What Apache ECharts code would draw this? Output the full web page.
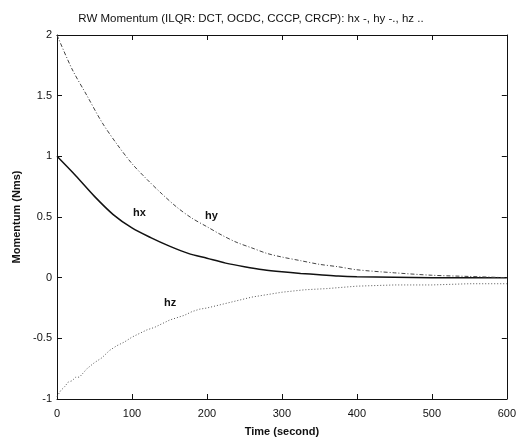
<!DOCTYPE html>
<html>
<head>
<meta charset="utf-8">
<script src="https://cdn.jsdelivr.net/npm/echarts@6/dist/echarts.min.js"></script>
<style>html,body{margin:0;padding:0;background:#fff}#c{width:519px;height:442px}</style>
</head>
<body>
<div id="c"></div>
<script>
// Time (s) and momentum (Nms) values
const hxT = [0, 25, 50, 75, 100, 125, 150, 175, 200, 225, 250, 275, 300, 325, 350, 375, 400, 450, 500, 600];
const hxV = [1.0, 0.84, 0.67, 0.52, 0.41, 0.33, 0.26, 0.20, 0.16, 0.12, 0.09, 0.065, 0.048, 0.035, 0.025, 0.014, 0.008, 0.003, 0.0, 0.0];

const hyT = [0, 20, 40, 60, 80, 100, 120, 140, 160, 180, 200, 220, 240, 260, 280, 300, 325, 350, 375, 400, 450, 500, 550, 600];
const hyV = [2.0, 1.72, 1.50, 1.28, 1.10, 0.94, 0.81, 0.69, 0.58, 0.49, 0.42, 0.35, 0.29, 0.245, 0.20, 0.17, 0.14, 0.11, 0.09, 0.065, 0.04, 0.02, 0.01, 0.0];

const hzT = [0, 5, 10, 15, 20, 25, 30, 40, 50, 60, 70, 80, 90, 100, 110, 120, 130, 140, 150, 160, 170, 180, 190, 200, 220, 240, 260, 280, 300, 330, 360, 400, 450, 500, 550, 600];
const hzV = [-0.98, -0.93, -0.90, -0.86, -0.85, -0.82, -0.82, -0.75, -0.70, -0.66, -0.60, -0.56, -0.53, -0.49, -0.46, -0.43, -0.41, -0.38, -0.35, -0.33, -0.31, -0.28, -0.26, -0.25, -0.22, -0.19, -0.16, -0.14, -0.12, -0.10, -0.09, -0.07, -0.06, -0.06, -0.05, -0.05];

const curveLabels = ['hx', 'hy', 'hz'];
const labelPos = [[110, 0.53], [206, 0.51], [151, -0.21]];

const xTicks = [0, 100, 200, 300, 400, 500, 600];
const yTicks = [-1, -0.5, 0, 0.5, 1, 1.5, 2];

const titleText = 'RW Momentum (ILQR: DCT, OCDC, CCCP, CRCP): hx -, hy -., hz ..';
const xName = 'Time (second)';
const yName = 'Momentum (Nms)';

function pairs(t, v) { return t.map((x, i) => [x, v[i]]); }

const font = 'Liberation Sans';
const chart = echarts.init(document.getElementById('c'), null, {renderer: 'canvas'});

function lbl(i) {
  return {
    symbol: 'circle', symbolSize: 0,
    label: {show: true, position: 'inside', formatter: curveLabels[i], color: '#111', fontFamily: font, fontSize: 11, fontWeight: 'bold'},
    data: [{coord: labelPos[i]}]
  };
}

function axLine() { return {show: true, onZero: false, lineStyle: {color: '#111', width: 1}}; }
function axTick() { return {show: true, inside: true, length: 5, lineStyle: {color: '#111', width: 1}}; }
chart.setOption({
  animation: false,
  backgroundColor: '#fff',
  title: {
    text: titleText, left: 246, top: 8, textAlign: 'center',
    textStyle: {fontFamily: font, fontSize: 11.5, fontWeight: 'normal', color: '#111'}
  },
  grid: {left: 57, right: 8, top: 35, bottom: 38, containLabel: false},
  xAxis: [{
    type: 'value', min: 0, max: 600, interval: 100, position: 'bottom',
    name: xName, nameLocation: 'middle', nameGap: 27,
    nameTextStyle: {fontFamily: font, fontSize: 11, fontWeight: 'bold', color: '#111'},
    axisLine: axLine(), axisTick: axTick(),
    axisLabel: {show: true, inside: false, fontFamily: font, fontSize: 11, color: '#111', margin: 9,
      formatter: v => xTicks.includes(v) ? String(v) : ''},
    splitLine: {show: false}
  }, {
    type: 'value', min: 0, max: 600, interval: 100, position: 'top',
    axisLine: axLine(), axisTick: axTick(),
    axisLabel: {show: false}, splitLine: {show: false}
  }],
  yAxis: [{
    type: 'value', min: -1, max: 2, interval: 0.5, position: 'left',
    name: yName, nameLocation: 'middle', nameGap: 34, nameRotate: 90,
    nameTextStyle: {fontFamily: font, fontSize: 11, fontWeight: 'bold', color: '#111'},
    axisLine: axLine(), axisTick: axTick(),
    axisLabel: {show: true, inside: false, fontFamily: font, fontSize: 11, color: '#111', margin: 5,
      formatter: v => yTicks.includes(v) ? String(v) : ''},
    splitLine: {show: false}
  }, {
    type: 'value', min: -1, max: 2, interval: 0.5, position: 'right',
    axisLine: axLine(), axisTick: axTick(),
    axisLabel: {show: false}, splitLine: {show: false}
  }],
  series: [{
    name: 'hx', type: 'line', data: pairs(hxT, hxV), showSymbol: false, smooth: 0.3,
    lineStyle: {color: '#111', width: 1.5, type: 'solid'}, markPoint: lbl(0)
  }, {
    name: 'hy', type: 'line', data: pairs(hyT, hyV), showSymbol: false, smooth: 0.3,
    lineStyle: {color: '#444', width: 1, type: [4, 2, 1, 2]}, markPoint: lbl(1)
  }, {
    name: 'hz', type: 'line', data: pairs(hzT, hzV), showSymbol: false,
    lineStyle: {color: '#555', width: 1, type: [1, 2]}, markPoint: lbl(2)
  }]
});
</script>
</body>
</html>
